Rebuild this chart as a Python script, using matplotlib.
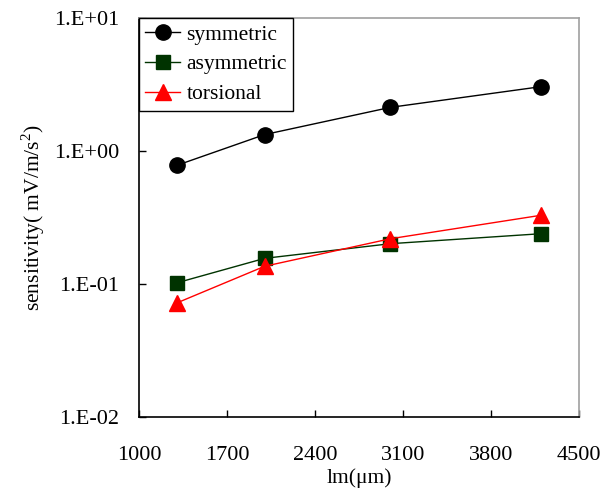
import numpy as np
import matplotlib
matplotlib.use('Agg')
import matplotlib.pyplot as plt
from matplotlib.ticker import FixedLocator, FuncFormatter, NullLocator

# data
lm = [1300, 2000, 3000, 4200]
symmetric = [0.78, 1.33, 2.13, 3.05]
asymmetric = [0.102, 0.156, 0.201, 0.239]
torsional = [0.072, 0.136, 0.219, 0.329]

x_ticks = [1000, 1700, 2400, 3100, 3800, 4500]
y_ticks = [1e-2, 1e-1, 1e0, 1e1]
y_labels = ['1.E-02', '1.E-01', '1.E+00', '1.E+01']

plt.rcParams['font.family'] = ['Liberation Serif', 'DejaVu Serif']
plt.rcParams['mathtext.fontset'] = 'custom'
plt.rcParams['mathtext.rm'] = 'Liberation Serif'


def fmt_y(v, pos):
    i = int(np.argmin([abs(np.log10(t) - np.log10(v)) for t in y_ticks]))
    return y_labels[i]


fig = plt.figure(figsize=(6.11, 4.88), dpi=100)
ax = fig.add_axes([0.2275, 0.1455, 0.72, 0.8175])

ax.plot(lm, symmetric, color='black', lw=1.0, marker='o', ms=11,
        label='symmetric')
ax.plot(lm, asymmetric, color='#003300', lw=1.0, marker='s', ms=10,
        label='asymmetric')
ax.plot(lm, torsional, color='#ff0000', lw=1.0, marker='^', ms=11,
        label='torsional')

ax.set_yscale('log')
ax.set_xlim(1000, 4500)
ax.set_ylim(1e-2, 1e1)
ax.xaxis.set_major_locator(FixedLocator(x_ticks))
ax.yaxis.set_major_locator(FixedLocator(y_ticks))
ax.yaxis.set_minor_locator(NullLocator())
ax.yaxis.set_major_formatter(FuncFormatter(fmt_y))
ax.tick_params(axis='x', direction='in', length=5, width=1, pad=21, labelsize=16)
ax.tick_params(axis='y', direction='in', length=5, width=1, pad=14, labelsize=16)

for s in ['left', 'bottom']:
    ax.spines[s].set_color('black')
    ax.spines[s].set_linewidth(1.2)
for s in ['top', 'right']:
    ax.spines[s].set_color('#a0a0a0')
    ax.spines[s].set_linewidth(1.2)

ax.set_xlabel('lm(μm)', fontsize=15.5, labelpad=2)
ax.set_ylabel('sensitivity( mV/m/s$^2$)', fontsize=15.5, labelpad=5)

leg = ax.legend(loc='upper left', bbox_to_anchor=(0, 1), fontsize=15.5,
                frameon=True, fancybox=False, framealpha=1, edgecolor='black',
                borderaxespad=0, handlelength=1.6, handletextpad=0.3,
                labelspacing=0.45, borderpad=0.3)
leg.get_frame().set_linewidth(1.0)

fig.savefig('out.png', dpi=100)
